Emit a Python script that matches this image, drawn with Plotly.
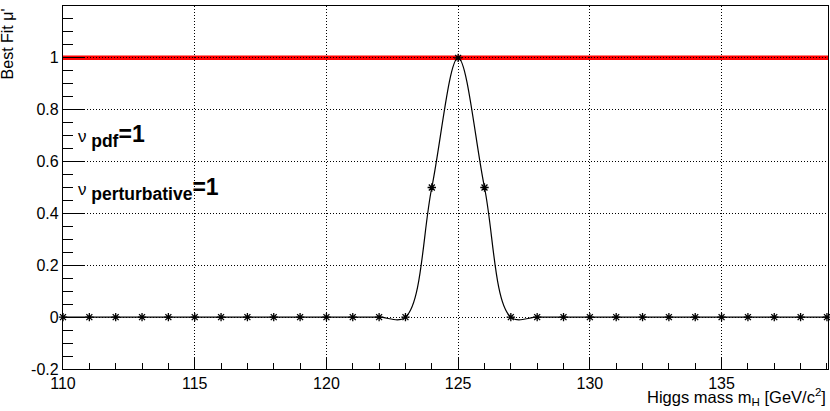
import plotly.graph_objects as go

# Best fit mu' vs Higgs mass hypothesis
mass = list(range(110, 140))
best_fit = [0.0] * 14 + [0.5, 1.0, 0.5] + [0.0] * 13
ref_mu = 1.0

x_ticks = [110, 115, 120, 125, 130, 135]
x_labels = ["110", "115", "120", "125", "130", "135"]
y_ticks = [-0.2, 0, 0.2, 0.4, 0.6, 0.8, 1, 1.2]
y_labels = ["-0.2", "0", "0.2", "0.4", "0.6", "0.8", "1", "1.2"]

FONT = "Liberation Sans, Arial, sans-serif"

fig = go.Figure()

# reference line at mu' = 1
fig.add_hline(y=ref_mu, line=dict(color="#ff0000", width=4.5), layer="below")

fig.add_trace(go.Scatter(
    x=mass,
    y=best_fit,
    mode="lines+markers",
    line=dict(color="black", width=1.2, shape="spline", smoothing=1.0),
    marker=dict(symbol="asterisk-open", size=7, color="black",
                line=dict(color="black", width=1.3)),
    cliponaxis=False,
    showlegend=False,
))

axis_common = dict(
    showline=True,
    linecolor="black",
    linewidth=1.3,
    mirror=True,
    ticks="inside",
    tickcolor="black",
    tickmode="array",
    showgrid=True,
    gridcolor="black",
    griddash="1px,2px",
    gridwidth=1,
    zeroline=False,
    automargin=False,
    tickfont=dict(family=FONT, size=16, color="black"),
)

fig.update_xaxes(
    **axis_common,
    range=[110, 139.04],
    tickvals=x_ticks,
    ticktext=x_labels,
    ticklen=12,
    minor=dict(dtick=1, tick0=110, ticks="inside", ticklen=6,
               tickcolor="black", showgrid=False),
)
fig.update_yaxes(
    **axis_common,
    range=[-0.2, 1.2],
    tickvals=y_ticks,
    ticktext=y_labels,
    ticklen=21,
    minor=dict(dtick=0.05, tick0=0, ticks="inside", ticklen=10,
               tickcolor="black", showgrid=False),
)


def nu_label(name):
    # nu, large bold subscript, bold "=1" (ROOT TLatex look)
    return ("<span style='font-size:17px'>ν </span>"
            "<sub><span style='font-size:17.5px'><b>%s</b></span></sub>"
            "<b>=1</b>" % name)


fig.add_annotation(
    text=nu_label("pdf"),
    xref="paper", yref="paper", x=0.017, y=0.642,
    xanchor="left", yanchor="middle", showarrow=False,
    font=dict(family=FONT, size=23, color="black"),
)
fig.add_annotation(
    text=nu_label("perturbative"),
    xref="paper", yref="paper", x=0.017, y=0.496,
    xanchor="left", yanchor="middle", showarrow=False,
    font=dict(family=FONT, size=23, color="black"),
)

# axis titles in ROOT style (aligned to the end of the axis)
fig.add_annotation(
    text="Best Fit μ'",
    xref="paper", yref="paper", x=-0.072, y=1.0,
    xanchor="center", yanchor="top", textangle=-90, showarrow=False,
    font=dict(family=FONT, size=16, color="black"),
)
fig.add_annotation(
    text="Higgs mass m<sub>H</sub> [GeV/c<sup>2</sup>]",
    xref="paper", yref="paper", x=1.0, y=-0.041,
    xanchor="right", yanchor="top", showarrow=False,
    font=dict(family=FONT, size=16.5, color="black"),
)

fig.update_layout(
    width=830,
    height=411,
    margin=dict(l=63, r=2, t=6, b=42),
    paper_bgcolor="white",
    plot_bgcolor="white",
    showlegend=False,
)

# drop the default page margin so the fixed-size figure fills the window
fig.write_html("out.html", config={"displayModeBar": False},
               post_script="document.body.style.margin='0';")
